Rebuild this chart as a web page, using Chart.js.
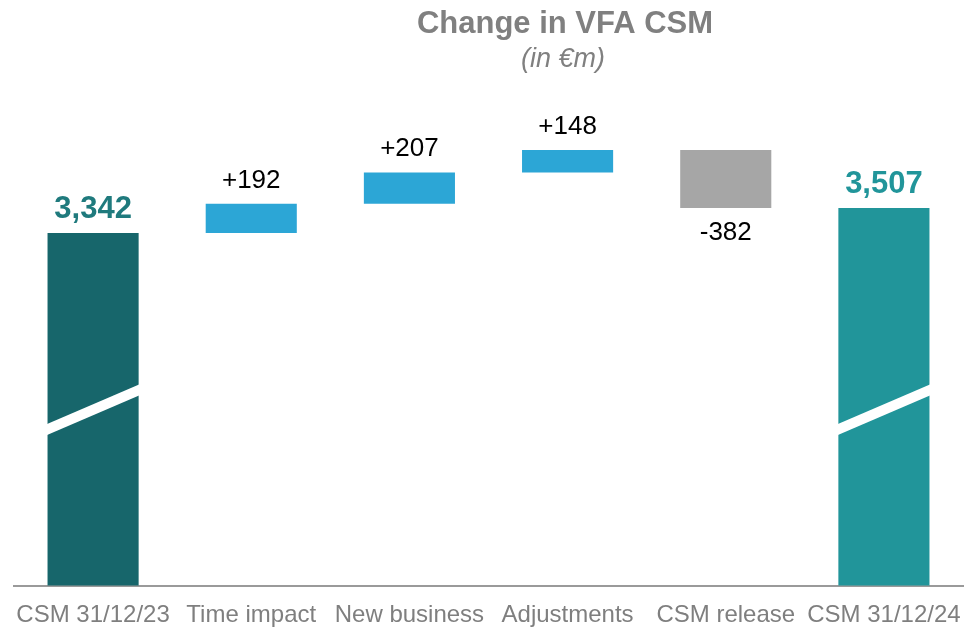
<!DOCTYPE html>
<html>
<head>
<meta charset="utf-8">
<script src="https://cdn.jsdelivr.net/npm/chart.js@4.4.1/dist/chart.umd.min.js"></script>
<style>
  body { margin: 0; background: #fff; }
  #wrap { width: 979px; height: 629px; }
</style>
</head>
<body>
<div id="wrap"><canvas id="csmChart" width="979" height="629"></canvas></div>
<script>
// Chart data
const categories = ["CSM 31/12/23", "Time impact", "New business", "Adjustments", "CSM release", "CSM 31/12/24"];
const movements = [3342, 192, 207, 148, -382, 3507];
const kinds = ["total", "step", "step", "step", "step", "total"];
const barColors = ["#17666b", "#2ca6d6", "#2ca6d6", "#2ca6d6", "#a6a6a6", "#21959a"];
const labelColors = ["#1f7a7d", "#000000", "#000000", "#000000", "#000000", "#21959a"];

// axis is cut: the baseline does not start at zero
const yMin = 1018;
const yMax = 4350;
const breakValue = 2180;

// Build floating bars [start, end] from the movements
let running = 0;
const floating = movements.map((v, i) => {
  if (kinds[i] === "total") {
    running = v;
    return [0, v];
  }
  const start = running;
  running += v;
  return [start, running];
});

const labelText = movements.map((v, i) => {
  const s = v.toLocaleString("en-US");
  if (kinds[i] === "total") return s;
  return v > 0 ? "+" + s : s;
});

// titles, value labels and the axis-break stripe
const decorations = {
  id: "decorations",
  afterDatasetsDraw(chart) {
    const c = chart.ctx;
    const meta = chart.getDatasetMeta(0);
    const y = chart.scales.y;

    // break stripe on the two totals
    c.save();
    c.fillStyle = "#ffffff";
    meta.data.forEach((bar, i) => {
      if (kinds[i] !== "total") return;
      const left = bar.x - bar.width / 2;
      const right = bar.x + bar.width / 2;
      const mid = y.getPixelForValue(breakValue);
      c.beginPath();
      c.moveTo(left - 1, mid + 15);
      c.lineTo(right + 1, mid - 25);
      c.lineTo(right + 1, mid - 14);
      c.lineTo(left - 1, mid + 26);
      c.closePath();
      c.fill();
    });
    c.restore();

    // value labels
    c.save();
    c.textAlign = "center";
    c.textBaseline = "alphabetic";
    meta.data.forEach((bar, i) => {
      const v = movements[i];
      c.fillStyle = labelColors[i];
      if (kinds[i] === "total") {
        c.font = "bold 31px 'Liberation Sans', Arial, sans-serif";
        c.fillText(labelText[i], bar.x, Math.min(bar.y, bar.base) - 15);
      } else {
        c.font = "26px 'Liberation Sans', Arial, sans-serif";
        if (v >= 0) {
          c.fillText(labelText[i], bar.x, Math.min(bar.y, bar.base) - 16);
        } else {
          c.fillText(labelText[i], bar.x, Math.max(bar.y, bar.base) + 32);
        }
      }
    });
    c.restore();

    // title and subtitle
    c.save();
    c.textAlign = "center";
    c.fillStyle = "#808080";
    c.font = "bold 31px 'Liberation Sans', Arial, sans-serif";
    c.fillText("Change in VFA CSM", 565, 33);
    c.font = "italic 27px 'Liberation Sans', Arial, sans-serif";
    c.fillText("(in €m)", 563, 67);
    c.restore();
  }
};

new Chart(document.getElementById("csmChart"), {
  type: "bar",
  data: {
    labels: categories,
    datasets: [{
      data: floating,
      backgroundColor: barColors,
      borderWidth: 0,
      barPercentage: 0.576,
      categoryPercentage: 1
    }]
  },
  options: {
    responsive: false,
    animation: false,
    layout: { padding: { top: 80, left: 14, right: 16, bottom: 0 } },
    plugins: {
      legend: { display: false },
      tooltip: { enabled: false }
    },
    scales: {
      x: {
        grid: { display: false, drawTicks: false },
        border: { display: true, color: "#9a9a9a", width: 2 },
        ticks: {
          color: "#7f7f7f",
          font: { family: "'Liberation Sans', Arial, sans-serif", size: 24 },
          padding: 15,
          maxRotation: 0,
          autoSkip: false
        },
        afterFit(scale) { scale.height = 43.5; }
      },
      y: {
        display: false,
        min: yMin,
        max: yMax
      }
    }
  },
  plugins: [decorations]
});
</script>
</body>
</html>
